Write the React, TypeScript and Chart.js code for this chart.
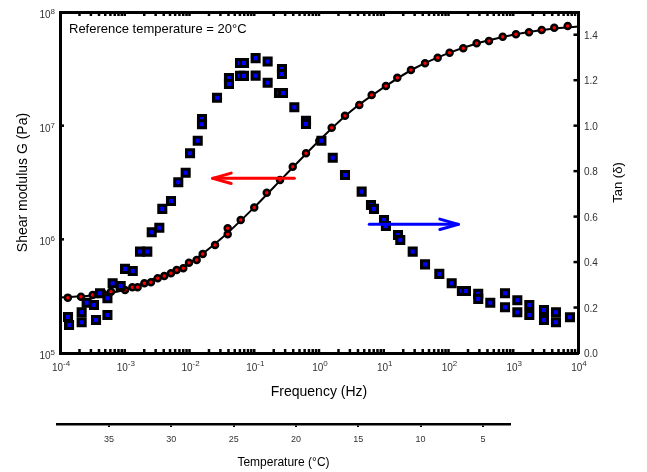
import { useEffect, useRef } from 'react';
import { Chart, registerables } from 'chart.js';

Chart.register(...registerables);

const FONT = '"Liberation Sans", Arial, Helvetica, sans-serif';

// Tan(delta) data (right axis)
const TAN_FREQ = [
  1.33e-4, 1.38e-4, 2.16e-4, 2.16e-4, 2.58e-4, 3.35e-4, 3.6e-4, 4.15e-4, 5.4e-4, 5.4e-4,
  6.5e-4, 8.65e-4, 1.01e-3, 1.33e-3, 1.72e-3, 2.23e-3, 2.61e-3, 3.42e-3, 3.8e-3, 5.18e-3,
  6.71e-3, 8.73e-3, 1.02e-2, 1.34e-2, 1.56e-2, 1.56e-2, 2.66e-2, 4.07e-2, 4.07e-2, 6.03e-2,
  6.95e-2, 6.03e-2, 6.95e-2, 0.105, 0.105, 0.161, 0.161, 0.268, 0.268, 0.241,
  0.278, 0.416, 0.63, 0.63, 1.09, 1.63, 2.52, 4.56, 6.35, 7.07,
  10.1, 10.8, 16.6, 18.0, 28.0, 43.4, 72.1, 112, 161, 186,
  288, 288, 442, 746, 746, 1156, 1156, 1770, 1770, 2985,
  2985, 4570, 4570, 7520,
];
const TAN_VALUES = [
  0.158, 0.123, 0.179, 0.135, 0.221, 0.211, 0.145, 0.263, 0.241, 0.167,
  0.307, 0.295, 0.370, 0.361, 0.446, 0.446, 0.531, 0.551, 0.634, 0.669,
  0.751, 0.793, 0.879, 0.934, 1.029, 1.006, 1.123, 1.209, 1.183, 1.276,
  1.276, 1.219, 1.219, 1.297, 1.220, 1.282, 1.189, 1.249, 1.227, 1.144,
  1.144, 1.081, 1.021, 1.008, 0.934, 0.859, 0.783, 0.710, 0.651, 0.634,
  0.585, 0.559, 0.519, 0.497, 0.446, 0.390, 0.348, 0.307, 0.273, 0.273,
  0.260, 0.238, 0.221, 0.263, 0.201, 0.232, 0.179, 0.211, 0.167, 0.189,
  0.145, 0.179, 0.135, 0.157,
];

// Shear modulus G data (left axis)
const G_FREQ = [
  1.32e-4, 2.11e-4, 3.2e-4, 3.82e-4, 4.61e-4, 6.13e-4, 1.01e-3, 1.31e-3, 1.58e-3, 2.01e-3,
  2.54e-3, 3.23e-3, 4.08e-3, 5.18e-3, 6.34e-3, 8.02e-3, 9.82e-3, 1.29e-2, 1.6e-2, 2.48e-2,
  3.89e-2, 3.89e-2, 6.18e-2, 0.1, 0.156, 0.25, 0.393, 0.63, 1.01, 1.57,
  2.52, 4.19, 6.51, 10.8, 16.2, 26.3, 43.4, 68.1, 104, 169,
  272, 422, 687, 1100, 1750, 2750, 4300, 6930,
];
const G_VALUES = [
  3.07e5, 3.13e5, 3.24e5, 3.3e5, 3.35e5, 3.46e5, 3.58e5, 3.78e5, 3.78e5, 4.1e5,
  4.19e5, 4.54e5, 4.76e5, 5.02e5, 5.37e5, 5.56e5, 6.23e5, 6.57e5, 7.43e5, 8.91e5,
  1.11e6, 1.25e6, 1.48e6, 1.91e6, 2.57e6, 3.33e6, 4.35e6, 5.71e6, 7.38e6, 9.6e6,
  1.22e7, 1.52e7, 1.86e7, 2.23e7, 2.64e7, 3.09e7, 3.54e7, 3.96e7, 4.38e7, 4.8e7,
  5.31e7, 5.56e7, 6.07e7, 6.37e7, 6.63e7, 6.95e7, 7.28e7, 7.53e7,
];

// Fitted master curve (black line)
const FIT_FREQ = [1e-4, 3e-4, 1e-3, 3e-3, 1e-2, 3e-2, 0.1, 0.3, 1, 3, 10, 30, 100, 300, 1000, 3000, 1e4];
const FIT_VALUES = [3.08e5, 3.21e5, 3.58e5, 4.57e5, 6.19e5, 1.0e6, 1.91e6, 3.65e6, 7.38e6, 1.32e7, 2.17e7, 3.2e7, 4.35e7, 5.36e7, 6.31e7, 6.98e7, 7.45e7];

// Axis ticks
const X_DECADES = [1e-4, 1e-3, 1e-2, 1e-1, 1, 10, 100, 1000, 10000];
const X_EXP_LABELS = ['-4', '-3', '-2', '-1', '0', '1', '2', '3', '4'];
const Y_DECADES = [1e5, 1e6, 1e7, 1e8];
const Y_EXP_LABELS = ['5', '6', '7', '8'];
const MINOR_MULTIPLIERS = [1, 2, 3, 4, 5, 6, 7, 8, 9];
const TAN_TICKS = [0, 0.2, 0.4, 0.6, 0.8, 1.0, 1.2, 1.4];
const TEMP_TICKS = [35, 30, 25, 20, 15, 10, 5];

// Arrows (data coordinates)
const RED_ARROW_FREQ = [0.416, 0.0228]; // from -> to (head)
const RED_ARROW_G = 3.44e6;
const BLUE_ARROW_FREQ = [5.98, 142];
const BLUE_ARROW_TAN = 0.566;

const REFERENCE_TEXT = 'Reference temperature = 20°C';

function drawArrow(ctx: CanvasRenderingContext2D, x1: number, y1: number, x2: number, y2: number, color: string) {
  const ang = Math.atan2(y2 - y1, x2 - x1);
  const hl = 18.5;
  const hw = 5.2;
  ctx.save();
  ctx.strokeStyle = color;
  ctx.lineWidth = 3;
  ctx.lineCap = 'round';
  ctx.lineJoin = 'round';
  ctx.beginPath();
  ctx.moveTo(x1, y1);
  ctx.lineTo(x2, y2);
  ctx.stroke();
  const bx = x2 - hl * Math.cos(ang);
  const by = y2 - hl * Math.sin(ang);
  const nx = -Math.sin(ang) * hw;
  const ny = Math.cos(ang) * hw;
  ctx.beginPath();
  ctx.moveTo(bx + nx, by + ny);
  ctx.lineTo(x2, y2);
  ctx.lineTo(bx - nx, by - ny);
  ctx.stroke();
  ctx.restore();
}

const decorPlugin = {
  id: 'decor',
  afterDraw(chart: any) {
    const { ctx, chartArea: ca, scales } = chart;
    const xs = scales.x;
    const ys = scales.y;
    const y1 = scales.y1;
    ctx.save();
    // inner tick marks
    ctx.fillStyle = '#000';
    for (let i = 0; i < X_DECADES.length - 1; i++) {
      for (const m of MINOR_MULTIPLIERS) {
        if (i === 0 && m === 1) continue;
        const px = xs.getPixelForValue(X_DECADES[i] * m);
        ctx.fillRect(px - 1.25, ca.bottom - 4, 2.5, 3);
        ctx.fillRect(px - 1.25, ca.top + 1, 2.5, 3);
      }
    }
    for (let i = 1; i < Y_DECADES.length - 1; i++) {
      const py = ys.getPixelForValue(Y_DECADES[i]);
      ctx.fillRect(ca.left + 1, py - 1.25, 3, 2.5);
    }
    for (let i = 1; i < TAN_TICKS.length; i++) {
      const py = y1.getPixelForValue(TAN_TICKS[i]);
      ctx.fillRect(ca.right - 4.5, py - 1.25, 3.5, 2.5);
    }

    // power-of-ten tick labels
    const big = `10px ${FONT}`;
    const small = `8px ${FONT}`;
    ctx.fillStyle = '#333';
    ctx.textAlign = 'left';
    ctx.textBaseline = 'alphabetic';
    X_DECADES.forEach((v, i) => {
      const px = xs.getPixelForValue(v);
      ctx.font = big;
      const w1 = ctx.measureText('10').width;
      ctx.font = small;
      const w2 = ctx.measureText(X_EXP_LABELS[i]).width;
      const x0 = px - (w1 + w2) / 2 + 1;
      ctx.font = big;
      ctx.fillText('10', x0, ca.bottom + 18);
      ctx.font = small;
      ctx.fillText(X_EXP_LABELS[i], x0 + w1, ca.bottom + 13);
    });
    Y_DECADES.forEach((v, i) => {
      const py = ys.getPixelForValue(v);
      ctx.font = big;
      const w1 = ctx.measureText('10').width;
      ctx.font = small;
      const w2 = ctx.measureText(Y_EXP_LABELS[i]).width;
      const x0 = ca.left - 5 - w1 - w2;
      ctx.font = big;
      ctx.fillText('10', x0, py + 6);
      ctx.font = small;
      ctx.fillText(Y_EXP_LABELS[i], x0 + w1, py + 2);
    });

    // arrows
    drawArrow(
      ctx,
      xs.getPixelForValue(RED_ARROW_FREQ[0]), ys.getPixelForValue(RED_ARROW_G),
      xs.getPixelForValue(RED_ARROW_FREQ[1]), ys.getPixelForValue(RED_ARROW_G),
      '#ff0000'
    );
    drawArrow(
      ctx,
      xs.getPixelForValue(BLUE_ARROW_FREQ[0]), y1.getPixelForValue(BLUE_ARROW_TAN),
      xs.getPixelForValue(BLUE_ARROW_FREQ[1]), y1.getPixelForValue(BLUE_ARROW_TAN),
      '#0000ff'
    );

    // annotation text
    ctx.fillStyle = '#000';
    ctx.font = `13px ${FONT}`;
    ctx.textAlign = 'left';
    ctx.textBaseline = 'middle';
    ctx.fillText(REFERENCE_TEXT, ca.left + 9, ca.top + 17);

    // right axis title (reads bottom to top)
    ctx.save();
    ctx.translate(618, (ca.top + ca.bottom) / 2);
    ctx.rotate(-Math.PI / 2);
    ctx.textAlign = 'center';
    ctx.textBaseline = 'middle';
    ctx.font = `13px ${FONT}`;
    ctx.fillText('Tan (δ)', 0, 0);
    ctx.restore();

    ctx.restore();
  },
};

const frameBorder = { display: true, width: 3, color: '#000' };
const noGrid = { display: true, drawOnChartArea: false, drawTicks: false };

export default function App() {
  const mainRef = useRef<HTMLCanvasElement>(null);
  const tempRef = useRef<HTMLCanvasElement>(null);

  useEffect(() => {
    Chart.defaults.font.family = FONT;
    const main = new Chart(mainRef.current as HTMLCanvasElement, {
      type: 'scatter',
      data: {
        datasets: [
          {
            label: 'Tan (δ)',
            data: TAN_FREQ.map((f, i) => ({ x: f, y: TAN_VALUES[i] })),
            xAxisID: 'x',
            yAxisID: 'y1',
            pointStyle: 'rect',
            pointRadius: 5,
            pointBorderWidth: 3,
            pointBackgroundColor: '#0000ff',
            pointBorderColor: '#000',
            showLine: false,
            order: 0,
          },
          {
            label: 'G',
            data: G_FREQ.map((f, i) => ({ x: f, y: G_VALUES[i] })),
            xAxisID: 'x',
            yAxisID: 'y',
            pointStyle: 'circle',
            pointRadius: 3,
            pointBorderWidth: 2.5,
            pointBackgroundColor: '#ff0000',
            pointBorderColor: '#000',
            showLine: false,
            order: 1,
          },
          {
            label: 'fit',
            data: FIT_FREQ.map((f, i) => ({ x: f, y: FIT_VALUES[i] })),
            xAxisID: 'x',
            yAxisID: 'y',
            showLine: true,
            pointRadius: 0,
            borderColor: '#000',
            borderWidth: 2,
            cubicInterpolationMode: 'monotone',
            order: 2,
          },
        ],
      },
      options: {
        responsive: false,
        maintainAspectRatio: false,
        animation: false,
        devicePixelRatio: 1,
        events: [],
        layout: { padding: 0 },
        plugins: { legend: { display: false }, tooltip: { enabled: false } },
        scales: {
          x: {
            type: 'logarithmic',
            position: 'bottom',
            min: 1e-4,
            max: 1e4,
            grid: noGrid,
            border: frameBorder,
            ticks: { display: false },
            afterFit: (s: any) => { s.height = 51; },
            title: {
              display: true,
              text: 'Frequency (Hz)',
              color: '#000',
              font: { size: 14 },
              padding: { top: 0, bottom: 3.6 },
            },
          },
          x2: {
            type: 'logarithmic',
            position: 'top',
            min: 1e-4,
            max: 1e4,
            grid: noGrid,
            border: frameBorder,
            ticks: { display: false },
            afterFit: (s: any) => { s.height = 12; },
          },
          y: {
            type: 'logarithmic',
            position: 'left',
            min: 1e5,
            max: 1e8,
            grid: noGrid,
            border: frameBorder,
            ticks: { display: false },
            afterFit: (s: any) => { s.width = 60; },
            title: {
              display: true,
              text: 'Shear modulus G (Pa)',
              color: '#000',
              font: { size: 14 },
              padding: { top: 14.6, bottom: 0 },
            },
          },
          y1: {
            type: 'linear',
            position: 'right',
            min: 0,
            max: 1.5,
            grid: noGrid,
            border: frameBorder,
            afterBuildTicks: (s: any) => { s.ticks = TAN_TICKS.map((v) => ({ value: v })); },
            ticks: {
              color: '#333',
              font: { size: 10 },
              padding: 6,
              labelOffset: 1.5,
              autoSkip: false,
              callback: (v: any) => Number(v).toFixed(1),
            },
            afterFit: (s: any) => { s.width = 69; },
          },
        },
      },
      plugins: [decorPlugin],
    } as any);

    const temp = new Chart(tempRef.current as HTMLCanvasElement, {
      type: 'scatter',
      data: { datasets: [] },
      options: {
        responsive: false,
        maintainAspectRatio: false,
        animation: false,
        devicePixelRatio: 1,
        events: [],
        layout: { padding: { left: 57, right: 137, top: 0, bottom: 0 } },
        plugins: { legend: { display: false }, tooltip: { enabled: false } },
        scales: {
          x: {
            type: 'linear',
            position: 'bottom',
            reverse: true,
            min: 2.83,
            max: 39.17,
            afterBuildTicks: (s: any) => { s.ticks = TEMP_TICKS.map((v) => ({ value: v })); },
            afterFit: (s: any) => { s.height = 48; },
            grid: { display: true, drawOnChartArea: false, drawTicks: true, tickLength: 3, lineWidth: 2, color: '#000' },
            border: { display: true, width: 2.5, color: '#000' },
            ticks: { color: '#333', font: { size: 9 }, padding: 7, maxRotation: 0, autoSkip: false },
            title: {
              display: true,
              text: 'Temperature (°C)',
              color: '#000',
              font: { size: 12 },
              padding: { top: 0, bottom: 2.3 },
            },
          },
          y: { display: false, min: 0, max: 1 },
        },
      },
    } as any);

    return () => {
      main.destroy();
      temp.destroy();
    };
  }, []);

  return (
    <div style={{ position: 'absolute', left: 0, top: 0, width: 647, height: 472, background: '#fff' }}>
      <canvas ref={mainRef} width={647} height={404} style={{ position: 'absolute', left: 0, top: 0 }} />
      <canvas ref={tempRef} width={647} height={68} style={{ position: 'absolute', left: 0, top: 404 }} />
    </div>
  );
}
